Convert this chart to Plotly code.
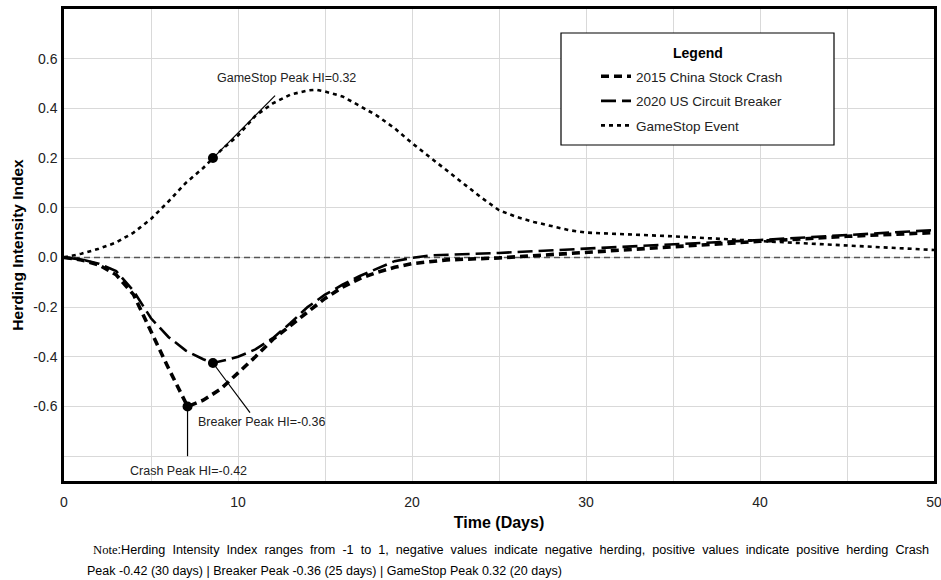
import plotly.graph_objects as go

# ---------------- data ----------------
crash_x = [0, 1, 2, 3, 4, 5, 6, 7.1, 8, 9, 10, 11, 12, 13, 14, 15, 16, 17, 18, 19, 20, 22, 25, 30, 35, 40, 45, 50]
crash_y = [0, -0.01, -0.03, -0.07, -0.15, -0.30, -0.445, -0.60, -0.575, -0.53, -0.465, -0.40, -0.33, -0.275,
           -0.22, -0.165, -0.12, -0.085, -0.06, -0.04, -0.025, -0.01, -0.002, 0.02, 0.045, 0.065, 0.085, 0.10]

breaker_x = [0, 1, 2, 3, 4, 5, 6, 7, 8, 8.56, 9.5, 10, 11, 12, 13, 14, 15, 16, 17, 18, 19, 20, 21, 25, 30, 35, 40, 45, 50]
breaker_y = [0, -0.008, -0.025, -0.055, -0.135, -0.245, -0.32, -0.375, -0.41, -0.425, -0.41, -0.40, -0.37,
             -0.325, -0.265, -0.2, -0.15, -0.11, -0.075, -0.045, -0.015, -0.002, 0.008, 0.018, 0.035, 0.055, 0.07, 0.09, 0.11]

game_x = [0, 1, 2, 3, 4, 5, 6, 7, 8, 8.56, 9, 10, 11, 12, 13, 14, 14.5, 15, 16, 17, 18, 19, 20, 21, 22, 23, 24,
          25, 26, 27, 28, 29, 30, 32, 35, 40, 45, 50]
game_y = [0, 0.015, 0.035, 0.06, 0.10, 0.155, 0.225, 0.30, 0.36, 0.40, 0.43, 0.49, 0.57, 0.62, 0.655, 0.672, 0.675,
          0.668, 0.648, 0.61, 0.57, 0.52, 0.46, 0.405, 0.35, 0.295, 0.24, 0.19, 0.163, 0.143, 0.125, 0.11, 0.10,
          0.095, 0.085, 0.066, 0.047, 0.03]

series_names = ["2015 China Stock Crash", "2020 US Circuit Breaker", "GameStop Event"]

# highlighted points and their labels
peak_x = [7.1, 8.56, 8.56]
peak_y = [-0.60, -0.425, 0.40]
peak_labels = ["Crash Peak HI=-0.42", "Breaker Peak HI=-0.36", "GameStop Peak HI=0.32"]
label_x = [7.13, 11.4, 12.8]
label_y = [-0.86, -0.662, 0.724]
leader_end_x = [7.1, 10.69, 12.13]
leader_end_y = [-0.80, -0.625, 0.651]

x_ticks = [0, 5, 10, 15, 20, 25, 30, 35, 40, 45, 50]
x_ticktext = ["0", "", "10", "", "20", "", "30", "", "40", "", "50"]
y_ticks = [-0.8, -0.6, -0.4, -0.2, 0.0, 0.2, 0.4, 0.6, 0.8]
y_ticktext = ["", "-0.6", "-0.4", "-0.2", "0.0", "0.0", "0.2", "0.4", "0.6"]

note_words1 = ['<span style="font-family:Liberation Serif">Note</span>:Herding', "Intensity", "Index", "ranges",
               "from", "-1", "to", "1,", "negative", "values", "indicate", "negative", "herding,", "positive",
               "values", "indicate", "positive", "herding", "Crash"]
note_line2 = "Peak -0.42 (30 days) | Breaker Peak -0.36 (25 days) | GameStop Peak 0.32 (20 days)"

# ---------------- figure ----------------
FONT = "Liberation Sans, Arial, sans-serif"
W, H = 941, 580
PL, PR, PT, PB = 64, 934, 9, 481   # plot area in pixels


def px(x):
    return (x - PL) / (PR - PL)


def py(y):
    return (PB - y) / (PB - PT)


fig = go.Figure()

# zero reference line (drawn first so the curves sit on top)
fig.add_trace(go.Scatter(x=[0, 50], y=[0, 0], mode="lines", showlegend=False, hoverinfo="skip",
                         line=dict(color="#555555", width=1.5, dash="6px,4px")))

fig.add_trace(go.Scatter(x=crash_x, y=crash_y, mode="lines", name=series_names[0], legendgroup="a",
                         line=dict(color="black", width=3.6, dash="8px,5px")))
fig.add_trace(go.Scatter(x=breaker_x, y=breaker_y, mode="lines", name=series_names[1], legendgroup="b",
                         line=dict(color="black", width=2.6, dash="15px,6px")))
fig.add_trace(go.Scatter(x=game_x, y=game_y, mode="lines", name=series_names[2], legendgroup="c",
                         line=dict(color="black", width=2.6, dash="4px,4px")))
fig.add_trace(go.Scatter(x=peak_x, y=peak_y, mode="markers", showlegend=False,
                         marker=dict(color="black", size=10)))

# leader lines and labels
for p_x, p_y, ex, ey, lx, ly, t in zip(peak_x, peak_y, leader_end_x, leader_end_y, label_x, label_y, peak_labels):
    fig.add_shape(type="line", x0=p_x, y0=p_y, x1=ex, y1=ey, xref="x", yref="y",
                  line=dict(color="black", width=1.2), layer="above")
    fig.add_annotation(x=lx, y=ly, xref="x", yref="y", text=t, showarrow=False,
                       xanchor="center", yanchor="middle",
                       font=dict(family=FONT, size=12.5, color="#222"))

# legend box
fig.add_shape(type="rect", xref="paper", yref="paper", x0=px(561), x1=px(834), y0=py(145), y1=py(33),
              line=dict(color="black", width=1.2), fillcolor="white", layer="above")
fig.add_annotation(xref="paper", yref="paper", x=px(697.5), y=py(53), text="<b>Legend</b>", showarrow=False,
                   xanchor="center", yanchor="middle",
                   font=dict(family=FONT, size=14, color="black"))

# note
note_line1 = " \u00a0".join(note_words1)
fig.add_annotation(xref="paper", yref="paper", x=px(91), y=py(550), xanchor="left",
                   yanchor="middle", text=note_line1, showarrow=False, font=dict(family=FONT, size=12.65, color="black"))
fig.add_annotation(xref="paper", yref="paper", x=px(85), y=py(571), xanchor="left",
                   yanchor="middle", text=note_line2, showarrow=False, font=dict(family=FONT, size=12.5, color="black"))

fig.update_layout(
    width=W, height=H,
    margin=dict(l=PL, r=W - PR, t=PT, b=H - PB, autoexpand=False),
    paper_bgcolor="white", plot_bgcolor="white",
    font=dict(family=FONT, color="#222"),
    legend=dict(x=px(596), y=py(61), xanchor="left", yanchor="top", bgcolor="rgba(0,0,0,0)",
                borderwidth=0, font=dict(family=FONT, size=13.5, color="#222"), tracegroupgap=4),
    xaxis=dict(range=[0, 50], tickvals=x_ticks, ticktext=x_ticktext, showgrid=True, gridcolor="#d9d9d9",
               gridwidth=1, zeroline=False, showline=True, linecolor="black", linewidth=2.5, mirror=True,
               ticks="", ticklabelstandoff=6, ticklabeloverflow="allow", tickfont=dict(size=14, color="#222"),
               automargin=False,
               title=dict(text="<b>Time (Days)</b>", font=dict(size=16, color="black"), standoff=9)),
    yaxis=dict(range=[-0.9, 1.0], tickvals=y_ticks, ticktext=y_ticktext, showgrid=True, gridcolor="#d9d9d9",
               gridwidth=1, zeroline=False, showline=True, linecolor="black", linewidth=2.5, mirror=True,
               ticks="", ticklabelstandoff=1, tickfont=dict(size=14, color="#222"), automargin=False,
               title=dict(text="<b>Herding Intensity Index</b>", font=dict(size=15.5, color="black"), standoff=6)),
)

fig.write_html("out.html", config={"displayModeBar": False},
               post_script="document.body.style.margin='0';document.body.style.overflow='hidden';")
